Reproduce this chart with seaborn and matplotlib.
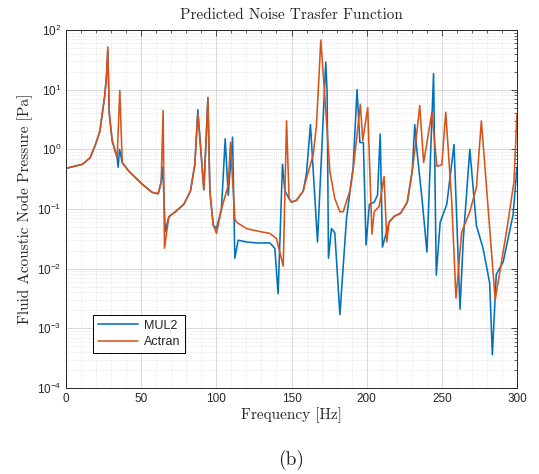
import numpy as np
import pandas as pd
import matplotlib
matplotlib.use("Agg")
import matplotlib.pyplot as plt
import seaborn as sns
from matplotlib.ticker import MultipleLocator, LogLocator, NullFormatter

# Noise transfer function: node pressure [Pa] versus frequency [Hz]
freq_mul2 = [0, 10.8, 16.0, 19.6, 22.5, 24.1, 25.8, 27.0, 27.8, 28.8, 30.7,
             34.0, 34.7, 35.6, 37.4, 41.8,
             50.7, 57.3, 61.3, 63.3, 64.4, 66.0, 68.4, 72.8, 78.4, 82.8,
             85.7, 87.7, 91.7, 94.4, 95.7, 97.9, 100.1, 103.4, 105.9, 107.9,
             110.8, 112.3, 114.5, 120.1, 126.7, 135.6, 138.9, 141.1, 144.0,
             145.6, 148.4, 150.0, 153.3, 157.8, 160.0, 162.6, 167.3, 172.8,
             173.7, 174.6, 176.6, 178.8, 182.2, 186.6, 191.0, 193.6, 195.5,
             197.8, 199.6, 201.8, 205.0, 207.2, 209.0, 210.5, 214.9, 218.2,
             222.6, 227.0, 230.3, 232.0, 233.2, 234.6, 236.8, 240.1, 244.5,
             246.3, 248.9, 253.3, 258.1, 262.1, 264.3, 268.6, 273.0, 277.4,
             281.8, 283.6, 286.2, 290.8, 297.4, 300.0]
p_mul2 = [0.48, 0.56, 0.72, 1.2, 2.0, 3.9, 8.0, 18.0, 45, 4.0, 1.4,
          0.72, 0.5, 1.0, 0.6, 0.43,
          0.26, 0.19, 0.18, 0.28, 0.5, 0.042, 0.074, 0.09, 0.12, 0.2,
          0.56, 4.6, 0.21, 7.4, 0.2, 0.054, 0.047, 0.1, 1.5, 0.17,
          1.6, 0.015, 0.03, 0.028, 0.027, 0.027, 0.022, 0.0038, 0.56,
          0.2, 0.15, 0.13, 0.14, 0.2, 0.4, 2.6, 0.028, 29,
          9, 0.015, 0.047, 0.04, 0.0017, 0.07, 0.5, 10, 1.3,
          1.3, 0.025, 0.12, 0.13, 0.17, 1.8, 0.023, 0.06, 0.075,
          0.085, 0.13, 0.43, 2.6, 1.1, 0.5, 0.15, 0.019, 18.6,
          0.0078, 0.06, 0.12, 1.2, 0.0021, 0.032, 1.0, 0.053, 0.022,
          0.0058, 0.00036, 0.008, 0.013, 0.08, 0.5]

freq_actran = [0, 10.8, 16.0, 19.6, 22.5, 24.1, 25.8, 27.0, 27.8, 28.8, 30.7,
               34.0, 35.8, 37.4, 41.8,
               50.7, 57.3, 61.3, 63.3, 64.6, 65.5, 68.4, 72.8, 78.4, 82.8,
               85.7, 87.7, 91.7, 94.4, 95.7, 97.9, 100.1, 103.4, 107.9, 109.4,
               112.3, 113.4, 120.1, 126.7, 135.6, 140.0, 144.5, 146.7, 148.4,
               150.0, 153.3, 157.8, 160.0, 164.4, 166.6, 169.5, 173.3, 175.5,
               178.8, 182.2, 184.4, 188.8, 191.0, 195.8, 197.4, 200.7, 203.5,
               205.0, 208.3, 211.6, 213.4, 214.9, 218.2, 222.6, 227.0, 230.3,
               232.5, 235.3, 237.9, 243.4, 246.7, 250.0, 252.6, 256.6, 259.4,
               263.2, 268.6, 273.0, 276.3, 285.5, 293.4, 298.0, 300.0]
p_actran = [0.48, 0.56, 0.72, 1.2, 2.0, 3.9, 8.0, 18.0, 52, 4.0, 1.4,
            0.72, 9.7, 0.6, 0.43,
            0.26, 0.19, 0.18, 0.28, 4.5, 0.022, 0.074, 0.09, 0.12, 0.2,
            0.56, 4.0, 0.21, 7.0, 0.2, 0.054, 0.039, 0.1, 0.25, 1.3,
            0.07, 0.06, 0.047, 0.043, 0.039, 0.032, 0.011, 3.0, 0.15,
            0.13, 0.14, 0.2, 0.33, 0.8, 2.5, 68, 3.0, 0.43,
            0.15, 0.09, 0.09, 0.2, 0.45, 5.7, 1.4, 5.0, 0.038,
            0.09, 0.11, 0.35, 0.028, 0.06, 0.075, 0.085, 0.13, 0.43,
            1.2, 5.4, 0.6, 4.2, 0.52, 0.55, 4.2, 0.13, 0.0032,
            0.041, 0.09, 0.23, 3.0, 0.003, 0.048, 0.29, 4.0]

model_names = ["MUL2", "Actran"]
model_colors = {"MUL2": "#0072BD", "Actran": "#D95319"}

df = pd.concat([
    pd.DataFrame({"Frequency": freq_mul2, "Pressure": p_mul2, "Model": "MUL2"}),
    pd.DataFrame({"Frequency": freq_actran, "Pressure": p_actran, "Model": "Actran"}),
], ignore_index=True)

sns.set_style("white")
plt.rcParams["font.family"] = ["Liberation Sans", "DejaVu Sans"]

W, H = 539, 474
fig = plt.figure(figsize=(W / 100, H / 100), dpi=100)
ax = fig.add_axes([66 / W, 1 - 388 / H, 451 / W, 358 / H])

sns.lineplot(data=df, x="Frequency", y="Pressure", hue="Model",
             hue_order=model_names, palette=model_colors, estimator=None,
             sort=False, linewidth=1.15, ax=ax)

ax.set_yscale("log")
ax.set_xlim(0, 300)
ax.set_ylim(1e-4, 1e2)
ax.xaxis.set_major_locator(MultipleLocator(50))
ax.xaxis.set_minor_locator(MultipleLocator(10))
ax.yaxis.set_major_locator(LogLocator(base=10, numticks=10))
ax.yaxis.set_minor_locator(LogLocator(base=10, subs=np.arange(2, 10), numticks=20))
ax.yaxis.set_minor_formatter(NullFormatter())

ax.grid(True, which="major", color="#d4d4d4", linewidth=0.6, linestyle="-")
ax.grid(True, which="minor", color="#d4d4d4", linewidth=0.5, linestyle=":")
ax.set_axisbelow(True)

ax.tick_params(which="both", direction="in", top=True, right=True,
               colors="#262626", labelsize=8.5)
ax.tick_params(which="major", length=4, width=0.6)
ax.tick_params(which="minor", length=2, width=0.5)
for s in ax.spines.values():
    s.set_color("#262626")
    s.set_linewidth(0.7)

ax.set_title("Predicted Noise Trasfer Function", fontfamily="cmr10",
             fontsize=11, pad=8)
ax.set_xlabel("Frequency [Hz]", fontfamily="cmr10", fontsize=11, labelpad=2)
ax.set_ylabel("Fluid Acoustic Node Pressure [Pa]", fontfamily="cmr10",
              fontsize=11, labelpad=3)

handles, labels = ax.get_legend_handles_labels()
ax.legend(handles, labels, loc="lower left", bbox_to_anchor=(0.045, 0.08),
          frameon=True, fancybox=False, edgecolor="black", framealpha=1,
          fontsize=9, handlelength=3.2, borderpad=0.4, labelspacing=0.35,
          handletextpad=0.5)
ax.get_legend().get_frame().set_linewidth(0.7)

fig.text(291 / W, 1 - 460 / H, "(b)", ha="center", va="center",
         fontfamily="cmr10", fontsize=14)

fig.savefig("out.png", dpi=100, facecolor="white")
